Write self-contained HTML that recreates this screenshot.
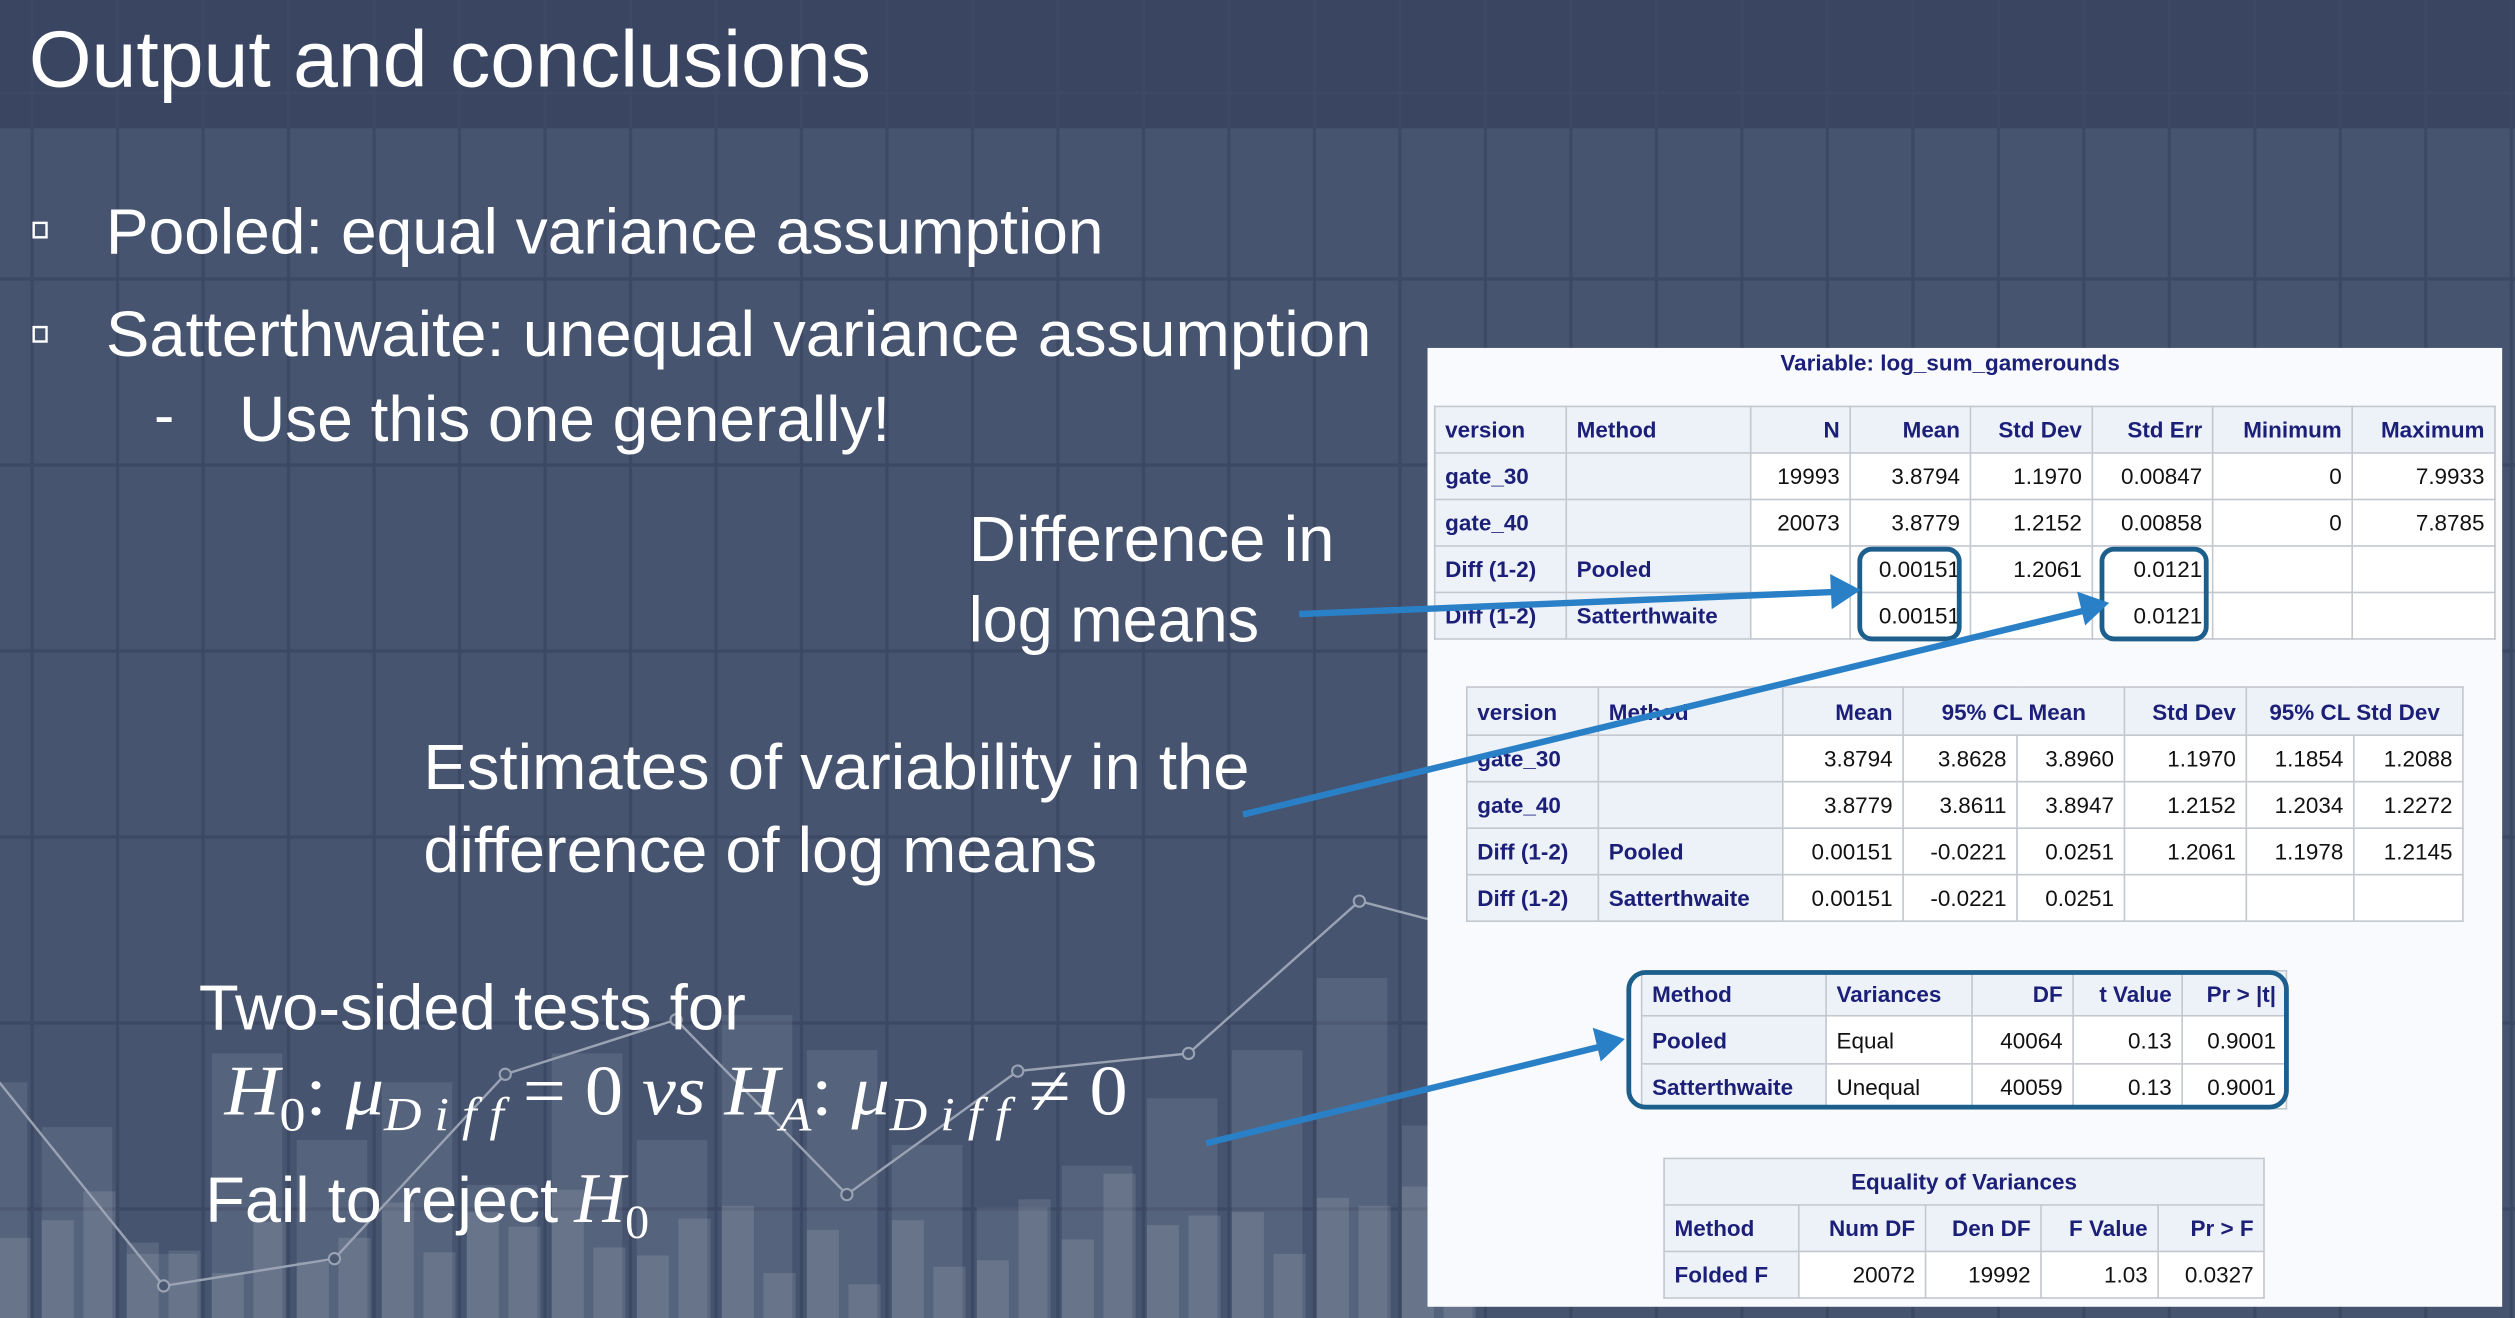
<!DOCTYPE html>
<html><head><meta charset="utf-8">
<style>
html,body{margin:0;padding:0;background:#46546f;}
#stage{position:absolute;left:0;top:0;width:1568px;height:822px;transform:scale(1.60395,1.60341);transform-origin:0 0;overflow:hidden;background:#46546f;}
#bg{position:absolute;left:0;top:0;}
.panel{position:absolute;left:890px;top:217px;width:670px;height:598px;background:#f8fafd;}
table{position:absolute;border-collapse:collapse;font-family:"Liberation Sans",Arial,sans-serif;font-size:14px;table-layout:fixed;}
td{border:1.5px solid #c3c7ce;padding:0 6px;white-space:nowrap;overflow:hidden;background:#fff;color:#111;text-align:right;}
td.h{background:#edf1f8;color:#1b1f78;font-weight:bold;}
td.l{text-align:left;}
.hl{position:absolute;border:3px solid #1d5f8c;border-radius:9px;box-sizing:border-box;}
.ttl{position:absolute;font-family:"Liberation Sans",Arial,sans-serif;font-weight:bold;font-size:14px;color:#1b1f78;}
</style></head>
<body>
<div id="stage">
<svg id="bg" width="1568" height="822" viewBox="0 0 1568 822">
  <rect x="0" y="0" width="1568" height="822" fill="#46546f"/>
  <rect x="0" y="0" width="1568" height="80" fill="#3a4661"/>
  <g id="grid" stroke="#3d4963" stroke-width="2"></g>
  <g id="barsBack" fill="#ffffff" fill-opacity="0.09"></g>
  <g id="barsFront" fill="#ffffff" fill-opacity="0.11"></g>
  <g id="lineG"></g>
  <g font-family="'Liberation Sans Narrow','Liberation Sans',sans-serif" fill="#ffffff">
    <text x="18" y="54" font-size="50" textLength="525" lengthAdjust="spacingAndGlyphs">Output and conclusions</text>
    <rect x="21" y="139" width="8" height="9" fill="none" stroke="#fff" stroke-width="1.5"/>
    <text x="66" y="158" font-size="40" textLength="622" lengthAdjust="spacingAndGlyphs">Pooled: equal variance assumption</text>
    <rect x="21" y="204" width="8" height="9" fill="none" stroke="#fff" stroke-width="1.5"/>
    <text x="66" y="222" font-size="40" textLength="789" lengthAdjust="spacingAndGlyphs">Satterthwaite: unequal variance assumption</text>
    <text x="96" y="272" font-size="38">-</text>
    <text x="149" y="275" font-size="40" textLength="406" lengthAdjust="spacingAndGlyphs">Use this one generally!</text>
    <text x="604" y="350" font-size="40" textLength="228" lengthAdjust="spacingAndGlyphs">Difference in</text>
    <text x="604" y="400" font-size="40" textLength="181" lengthAdjust="spacingAndGlyphs">log means</text>
    <text x="264" y="492" font-size="40" textLength="515" lengthAdjust="spacingAndGlyphs">Estimates of variability in the</text>
    <text x="264" y="544" font-size="40" textLength="420" lengthAdjust="spacingAndGlyphs">difference of log means</text>
    <text x="124" y="642" font-size="40" textLength="341" lengthAdjust="spacingAndGlyphs">Two-sided tests for</text>
    <text x="140" y="695" font-size="44" font-family="'Liberation Serif',serif" textLength="563" lengthAdjust="spacingAndGlyphs"><tspan font-style="italic">H</tspan><tspan font-size="30" dy="10">0</tspan><tspan dy="-10">: </tspan><tspan font-style="italic">μ</tspan><tspan font-style="italic" font-size="30" dy="10">D i f f</tspan><tspan dy="-10"> = 0 </tspan><tspan font-style="italic">vs H</tspan><tspan font-style="italic" font-size="30" dy="10">A</tspan><tspan dy="-10">: </tspan><tspan font-style="italic">μ</tspan><tspan font-style="italic" font-size="30" dy="10">D i f f</tspan><tspan dy="-10"> ≠ 0</tspan></text>
    <text x="128" y="762" font-size="40"><tspan textLength="220" lengthAdjust="spacingAndGlyphs">Fail to reject</tspan><tspan font-family="'Liberation Serif',serif" font-style="italic" dx="10" font-size="44">H</tspan><tspan font-family="'Liberation Serif',serif" font-size="30" dy="10">0</tspan></text>
  </g>
</svg>

<div class="panel"></div>
<div class="ttl" style="left:1110px;top:218px;">Variable: log_sum_gamerounds</div>

<table style="left:894px;top:253px;width:661px;">
<colgroup><col style="width:82px"><col style="width:115px"><col style="width:62px"><col style="width:75px"><col style="width:76px"><col style="width:75px"><col style="width:87px"><col style="width:89px"></colgroup>
<tr style="height:29px"><td class="h l">version</td><td class="h l">Method</td><td class="h">N</td><td class="h">Mean</td><td class="h">Std Dev</td><td class="h">Std Err</td><td class="h">Minimum</td><td class="h">Maximum</td></tr>
<tr style="height:29px"><td class="h l">gate_30</td><td class="h"></td><td>19993</td><td>3.8794</td><td>1.1970</td><td>0.00847</td><td>0</td><td>7.9933</td></tr>
<tr style="height:29px"><td class="h l">gate_40</td><td class="h"></td><td>20073</td><td>3.8779</td><td>1.2152</td><td>0.00858</td><td>0</td><td>7.8785</td></tr>
<tr style="height:29px"><td class="h l">Diff (1-2)</td><td class="h l">Pooled</td><td></td><td>0.00151</td><td>1.2061</td><td>0.0121</td><td></td><td></td></tr>
<tr style="height:29px"><td class="h l">Diff (1-2)</td><td class="h l">Satterthwaite</td><td></td><td>0.00151</td><td></td><td>0.0121</td><td></td><td></td></tr>
</table>
<div class="hl" style="left:1158px;top:341px;width:65px;height:59px;"></div>
<div class="hl" style="left:1309px;top:341px;width:68px;height:59px;"></div>

<table style="left:914px;top:428px;width:621px;">
<colgroup><col style="width:82px"><col style="width:115px"><col style="width:75px"><col style="width:71px"><col style="width:67px"><col style="width:76px"><col style="width:67px"><col style="width:68px"></colgroup>
<tr style="height:30px"><td class="h l">version</td><td class="h l">Method</td><td class="h">Mean</td><td class="h" colspan="2" style="text-align:center">95% CL Mean</td><td class="h">Std Dev</td><td class="h" colspan="2" style="text-align:center">95% CL Std Dev</td></tr>
<tr style="height:29px"><td class="h l">gate_30</td><td class="h"></td><td>3.8794</td><td>3.8628</td><td>3.8960</td><td>1.1970</td><td>1.1854</td><td>1.2088</td></tr>
<tr style="height:29px"><td class="h l">gate_40</td><td class="h"></td><td>3.8779</td><td>3.8611</td><td>3.8947</td><td>1.2152</td><td>1.2034</td><td>1.2272</td></tr>
<tr style="height:29px"><td class="h l">Diff (1-2)</td><td class="h l">Pooled</td><td>0.00151</td><td>-0.0221</td><td>0.0251</td><td>1.2061</td><td>1.1978</td><td>1.2145</td></tr>
<tr style="height:29px"><td class="h l">Diff (1-2)</td><td class="h l">Satterthwaite</td><td>0.00151</td><td>-0.0221</td><td>0.0251</td><td></td><td></td><td></td></tr>
</table>

<table style="left:1023px;top:605px;width:402px;">
<colgroup><col style="width:115px"><col style="width:91px"><col style="width:63px"><col style="width:68px"><col style="width:65px"></colgroup>
<tr style="height:28px"><td class="h l">Method</td><td class="h l">Variances</td><td class="h">DF</td><td class="h">t Value</td><td class="h">Pr &gt; |t|</td></tr>
<tr style="height:30px"><td class="h l">Pooled</td><td class="l">Equal</td><td>40064</td><td>0.13</td><td>0.9001</td></tr>
<tr style="height:28px"><td class="h l">Satterthwaite</td><td class="l">Unequal</td><td>40059</td><td>0.13</td><td>0.9001</td></tr>
</table>
<div class="hl" style="left:1014px;top:605px;width:413px;height:87px;border-radius:12px;"></div>

<table style="left:1037px;top:722px;width:374px;">
<colgroup><col style="width:84px"><col style="width:79px"><col style="width:72px"><col style="width:73px"><col style="width:66px"></colgroup>
<tr style="height:29px"><td class="h" colspan="5" style="text-align:center">Equality of Variances</td></tr>
<tr style="height:29px"><td class="h l">Method</td><td class="h">Num DF</td><td class="h">Den DF</td><td class="h">F Value</td><td class="h">Pr &gt; F</td></tr>
<tr style="height:29px"><td class="h l">Folded F</td><td>20072</td><td>19992</td><td>1.03</td><td>0.0327</td></tr>
</table>

<svg style="position:absolute;left:0;top:0;" width="1568" height="822" viewBox="0 0 1568 822">
  <g stroke="#2a80c6" stroke-width="4" fill="#2a80c6">
    <line x1="810" y1="383" x2="1148" y2="369"/>
    <polygon points="1160,368 1141,358 1142,380" stroke="none"/>
    <line x1="775" y1="508" x2="1303" y2="380"/>
    <polygon points="1315,376 1295,369 1300,390" stroke="none"/>
    <line x1="752" y1="713" x2="1001" y2="652"/>
    <polygon points="1013,648 993,641 998,662" stroke="none"/>
  </g>
</svg>
</div>

<script>
// decorative background chart data (bar heights & line values above slide bottom)
const backBarValues = [147,119,40,165,111,147,83,165,111,189,167,108,69,95,137,167,212,120];
const frontBarValues = [50,50,61,79,47,42,28,60,35,50,72,41,66,57,80,44,39,62,70,28,55,21,61,32,36,74,49,90,58,64,66,40,75,70,82,55];
const lineValues = [152,20,37,152,186,77,154,165,260,232];

const NS = 'http://www.w3.org/2000/svg';
const baseY = 822, slotW = 53, slotX0 = -27;
function barX(i){ return slotX0 + slotW*i; }
function valY(v){ return baseY - v; }
function lineX(i){ return -4.5 + 106.5*i; }

const grid = document.getElementById('grid');
for (let x = 20; x < 1568; x += 53.3) {
  const l = document.createElementNS(NS,'line');
  l.setAttribute('x1',x); l.setAttribute('x2',x); l.setAttribute('y1',0); l.setAttribute('y2',822);
  
  
  grid.appendChild(l);
}
for (let y = 58; y < 822; y += 116) {
  const l = document.createElementNS(NS,'line');
  l.setAttribute('x1',0); l.setAttribute('x2',1568); l.setAttribute('y1',y); l.setAttribute('y2',y);
  
  
  grid.appendChild(l);
}

const gb = document.getElementById('barsBack');
backBarValues.forEach((v,i)=>{
  const r = document.createElementNS(NS,'rect');
  r.setAttribute('x', barX(i)); r.setAttribute('y', valY(v)); r.setAttribute('width', 44); r.setAttribute('height', v);
  
  
  gb.appendChild(r);
});
const gf = document.getElementById('barsFront');
frontBarValues.forEach((v,i)=>{
  const slot = Math.floor(i/2), k = i%2;
  const r = document.createElementNS(NS,'rect');
  r.setAttribute('x', barX(slot) + k*26); r.setAttribute('y', valY(v)); r.setAttribute('width', 20); r.setAttribute('height', v);
  
  
  gf.appendChild(r);
});

const lg = document.getElementById('lineG');
const pl = document.createElementNS(NS,'polyline');
pl.setAttribute('points', lineValues.map((v,i)=>lineX(i)+','+valY(v)).join(' '));
pl.setAttribute('fill','none'); pl.setAttribute('stroke','#9aa3b4'); pl.setAttribute('stroke-width','1.5');


lg.appendChild(pl);
lineValues.forEach((v,i)=>{
  const c = document.createElementNS(NS,'circle');
  c.setAttribute('cx', lineX(i)); c.setAttribute('cy', valY(v)); c.setAttribute('r', 3.5);
  c.setAttribute('fill','#4a5872'); c.setAttribute('stroke','#9aa3b4'); c.setAttribute('stroke-width','1.3');
  
  
  lg.appendChild(c);
});
</script>
</body></html>
